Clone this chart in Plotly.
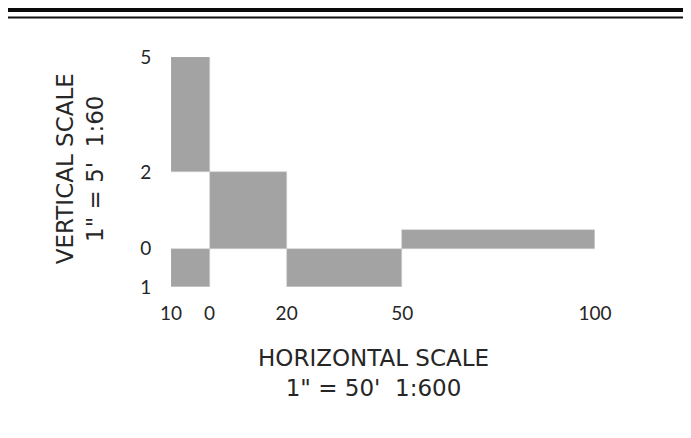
import plotly.graph_objects as go

# scale bar blocks (in feet): left/right edge and bottom/top
x_start = [-10, 0, -10, 20, 50]
x_end = [0, 20, 0, 50, 100]
y_bottom = [2, 0, -1, -1, 0]
y_top = [5, 2, 0, 0, 0.5]

x_ticks = [-10, 0, 20, 50, 100]
x_tick_labels = ["10", "0", "20", "50", "100"]
y_ticks = [-1, 0, 2, 5]
y_tick_labels = ["1", "0", "2", "5"]

ink = "#262626"

centers = [(a + b) / 2 for a, b in zip(x_start, x_end)]
widths = [b - a for a, b in zip(x_start, x_end)]
heights = [t - b for b, t in zip(y_bottom, y_top)]

fig = go.Figure()
fig.add_trace(go.Bar(
    x=centers, y=heights, base=y_bottom, width=widths,
    marker=dict(color="#a3a3a3", line=dict(color="#cfcfcf", width=0.6)),
    hoverinfo="skip", showlegend=False,
))

# the page body adds 8px, so the figure is a bit smaller than the window
fig.update_layout(
    width=683, height=430,
    margin=dict(l=163, r=96, t=49, b=151),
    plot_bgcolor="white", paper_bgcolor="white",
    font=dict(family="Lato", size=19, color=ink),
    bargap=0,
)
fig.update_xaxes(
    range=[-10, 100], tickvals=x_ticks, ticktext=x_tick_labels,
    showgrid=False, zeroline=False, showline=False,
    ticks="outside", ticklen=0, ticklabelstandoff=9,
)
fig.update_yaxes(
    range=[-1, 5], tickvals=y_ticks, ticktext=y_tick_labels,
    showgrid=False, zeroline=False, showline=False,
    ticks="outside", ticklen=0, ticklabelstandoff=15,
)

# scale titles
title_font = dict(family="DejaVu Sans", size=23, color=ink)
fig.add_annotation(
    text="VERTICAL SCALE<br>1\" = 5'  1:60", textangle=-90,
    xref="paper", yref="paper", x=-0.214, y=0.513,
    xanchor="center", yanchor="middle", showarrow=False,
    font=title_font, align="center",
)
fig.add_annotation(
    text="HORIZONTAL SCALE<br>1\" = 50'  1:600",
    xref="paper", yref="paper", x=0.4776, y=-0.374,
    xanchor="center", yanchor="middle", showarrow=False,
    font=title_font, align="center",
)

# border rules at the top of the sheet
fig.add_shape(type="rect", xref="paper", yref="paper",
              x0=-0.4, x1=1.25, y0=1.1957, y1=1.22,
              fillcolor="#0a0a0a", line_width=0)
fig.add_shape(type="line", xref="paper", yref="paper",
              x0=-0.4, x1=1.25, y0=1.1717, y1=1.1717,
              line=dict(color="#111111", width=2))

fig.write_html("out.html")
